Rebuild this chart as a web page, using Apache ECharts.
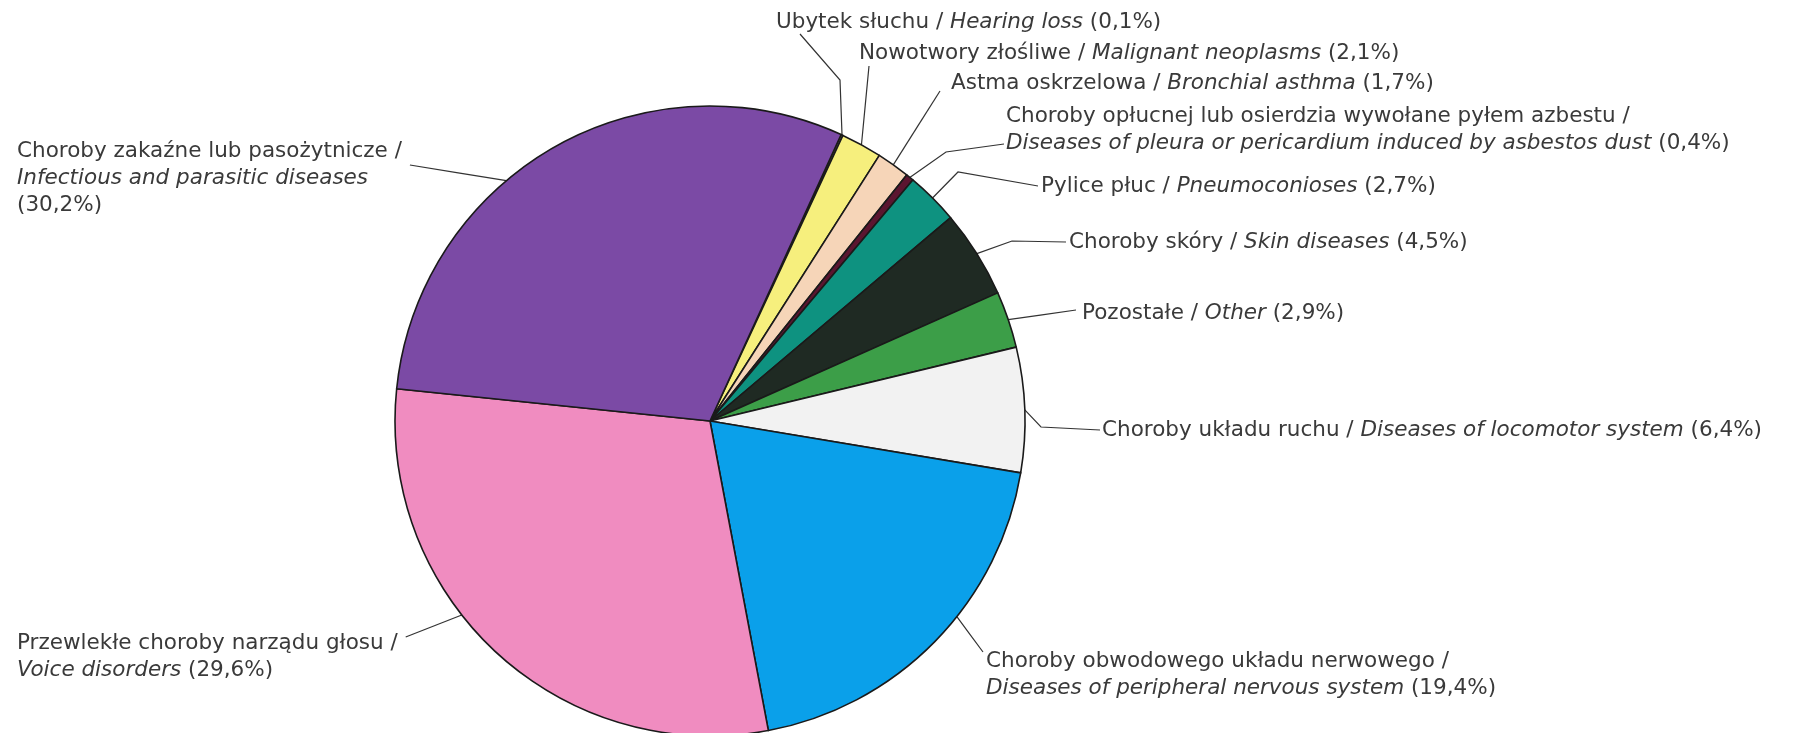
<!DOCTYPE html>
<html>
<head>
<meta charset="utf-8">
<script src="https://cdn.jsdelivr.net/npm/echarts@6/dist/echarts.min.js"></script>
<style>
  html, body { margin: 0; background: #fff; }
  #chart { width: 1793px; height: 733px; }
</style>
</head>
<body>
<div id="chart"></div>
<script>
// data, clockwise from the top right
const namesPl = [
  'Ubytek słuchu',
  'Nowotwory złośliwe',
  'Astma oskrzelowa',
  'Choroby opłucnej lub osierdzia wywołane pyłem azbestu',
  'Pylice płuc',
  'Choroby skóry',
  'Pozostałe',
  'Choroby układu ruchu',
  'Choroby obwodowego układu nerwowego',
  'Przewlekłe choroby narządu głosu',
  'Choroby zakaźne lub pasożytnicze'
]
const namesEn = [
  'Hearing loss',
  'Malignant neoplasms',
  'Bronchial asthma',
  'Diseases of pleura or pericardium induced by asbestos dust',
  'Pneumoconioses',
  'Skin diseases',
  'Other',
  'Diseases of locomotor system',
  'Diseases of peripheral nervous system',
  'Voice disorders',
  'Infectious and parasitic diseases'
]
const values = [0.1, 2.1, 1.7, 0.4, 2.7, 4.5, 2.9, 6.4, 19.4, 29.6, 30.2]

const colors = ['#d9c27a', '#f6ef7d', '#f6d5b8', '#5b1530', '#0e9280', '#1f2a23',
  '#3c9e48', '#f2f2f2', '#0aa0ea', '#f08cc0', '#7b4aa5']

// label placement (left edge, vertical middle) and line breaks
const labelX = [776, 859, 951, 1006, 1041, 1069, 1082, 1102, 986, 17, 17]
const labelY = [22, 53, 83, 130, 186, 242, 313, 430, 675, 657, 178]
const breaks = [0, 0, 0, 1, 0, 0, 0, 0, 1, 1, 2]
// leader lines: where the line meets the text, an optional bend, and a shift along the arc
const lineSide = ['L', 'L', 'L', 'L', 'L', 'L', 'L', 'L', 'L', 'R', 'R']
const lineEnd = [[24, 12], [10, 13], [-11, 8], [-2, 14], [-3, 0], [-3, 0], [-6, -3], [-2, 0], [-3, -23], [8, -20], [8, -13]]
const lineBend = [[40, 46], null, null, [-58, 8], [-80, -14], [-54, -1], null, [-59, -3], null, null, null]
const arcShift = [0, 0, 0, 0, 0, 0, 0, 0, -6, 9.4, -10.5]

const center = [710, 421]

const chart = echarts.init(document.getElementById('chart'))

function fmt(p) {
  const i = p.dataIndex
  const pct = values[i].toFixed(1).replace('.', ',') + '%'
  let s = '{n|' + namesPl[i] + ' /}' + (breaks[i] ? '\n' : '{n| }') + '{e|' + namesEn[i] + '}'
  s += breaks[i] === 2 ? '\n{n|(' + pct + ')}' : '{n| (' + pct + ')}'
  return s
}

function rotate(p, deg) {
  const a = deg * Math.PI / 180
  const vx = p[0] - center[0]
  const vy = p[1] - center[1]
  return [center[0] + vx * Math.cos(a) - vy * Math.sin(a), center[1] + vx * Math.sin(a) + vy * Math.cos(a)]
}

const txt = {
  fontFamily: 'DejaVu Sans',
  fontSize: 21.5,
  color: '#3a3a3a',
  lineHeight: 27
}

chart.setOption({
  backgroundColor: '#fff',
  animation: false,
  series: [
    {
      type: 'pie',
      center: center,
      radius: 315,
      startAngle: 65.4,
      clockwise: true,
      avoidLabelOverlap: false,
      itemStyle: {
        borderColor: '#1a1a1a',
        borderWidth: 1.6
      },
      label: {
        show: true,
        position: 'outside',
        formatter: fmt,
        rich: {
          n: txt,
          e: Object.assign({}, txt, { fontStyle: 'italic' })
        }
      },
      labelLine: {
        show: true,
        smooth: false,
        lineStyle: { color: '#333', width: 1.2 }
      },
      labelLayout: function (params) {
        const i = params.dataIndex
        const x0 = lineSide[i] === 'R' ? labelX[i] + params.labelRect.width : labelX[i]
        const end = [x0 + lineEnd[i][0], labelY[i] + lineEnd[i][1]]
        const start = rotate(params.labelLinePoints[0], arcShift[i])
        const bend = lineBend[i]
          ? [end[0] + lineBend[i][0], end[1] + lineBend[i][1]]
          : [(start[0] + end[0]) / 2, (start[1] + end[1]) / 2]
        return {
          x: labelX[i],
          y: labelY[i],
          align: 'left',
          verticalAlign: 'middle',
          labelLinePoints: [start, bend, end]
        }
      },
      data: values.map((v, i) => ({
        name: namesEn[i],
        value: v,
        itemStyle: { color: colors[i] }
      }))
    }
  ]
})
</script>
</body>
</html>
